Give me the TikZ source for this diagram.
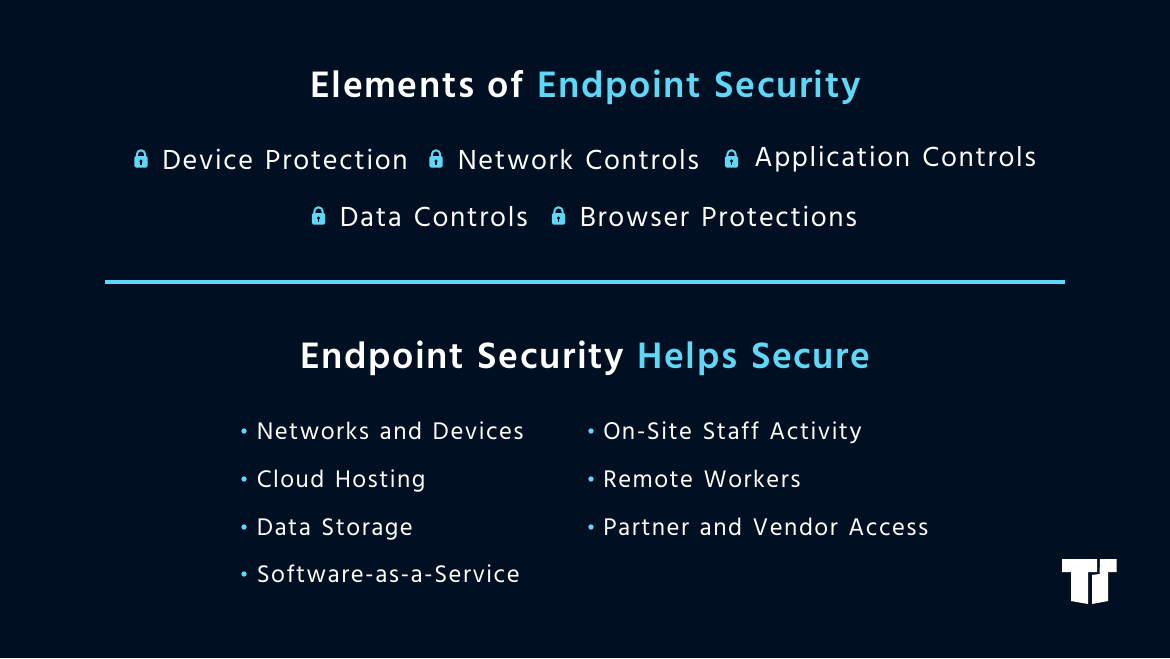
\documentclass[tikz,border=0pt]{standalone}
\usepackage{fontspec}
\setmainfont{Hind Siliguri}
\newfontfamily\itemfont[LetterSpace=6,WordSpace=1.5]{Hind Siliguri}
\newfontfamily\headfont[LetterSpace=4,WordSpace=1.3]{Hind Siliguri}
\usetikzlibrary{calc}
\definecolor{bgnavy}{HTML}{001022}
\definecolor{skyblue}{HTML}{5FD8F8}
\tikzset{
  headtext/.style={inner sep=0pt, anchor=base, text=white, font=\headfont\bfseries\fontsize{28.3pt}{32pt}\selectfont},
  itemtext/.style={inner sep=0pt, anchor=base west, text=white, font=\itemfont\fontsize{21.2pt}{24pt}\selectfont},
  listtext/.style={inner sep=0pt, anchor=base west, text=white, font=\itemfont\fontsize{18.5pt}{22pt}\selectfont},
  dot/.style={circle, fill=skyblue, inner sep=0pt, minimum size=4pt}
}
% padlock drawn at its centre
\newcommand{\padlock}[1]{
  \draw[skyblue, line width=1.5pt] ($(#1)+(-4.2,-1)$) -- ($(#1)+(-4.2,-4)$) arc (180:360:4.2) -- ($(#1)+(4.2,-1)$);
  \fill[skyblue, rounded corners=1.2pt] ($(#1)+(-6.7,-2.5)$) rectangle ($(#1)+(6.7,9)$);
  \fill[bgnavy] ($(#1)+(0,2.6)$) circle (1.7);
  \fill[bgnavy] ($(#1)+(-0.7,2.6)$) rectangle ($(#1)+(0.7,6)$);
}
\begin{document}
\begin{tikzpicture}[x=0.75pt, y=-0.75pt]
  \fill[bgnavy] (0,0) rectangle (1170,658);

  % top block
  \node[headtext] (head1) at (585.5,97) {Elements of \textcolor{skyblue}{Endpoint Security}};

  \padlock{141,158.5}
  \node[itemtext] (device) at (162,169) {Device Protection};
  \padlock{436,158.5}
  \node[itemtext] (network) at (457.5,169) {Network Controls};
  \padlock{731.5,158.5}
  \node[itemtext] (application) at (754,166) {Application Controls};
  \padlock{318.5,215.5}
  \node[itemtext] (data) at (339.5,226) {Data Controls};
  \padlock{558.5,215.5}
  \node[itemtext] (browser) at (579.5,226) {Browser Protections};

  \draw[skyblue, line width=3pt] (105,282) -- (1065,282);

  % lower block
  \node[headtext] (head2) at (585.5,368) {Endpoint Security \textcolor{skyblue}{Helps Secure}};

  \foreach \y/\name in {439/Networks and Devices, 487/Cloud Hosting, 535/Data Storage, 582/Software-as-a-Service}{
    \node[dot] at (244,\y-8) {};
    \node[listtext] at (256.5,\y) {\name};
  }
  \foreach \y/\name in {439/On-Site Staff Activity, 487/Remote Workers, 535/Partner and Vendor Access}{
    \node[dot] at (591,\y-8) {};
    \node[listtext] at (603,\y) {\name};
  }

  % logo
  \fill[white] (1062,559) -- (1097,559) -- (1097,572) -- (1088,572) -- (1088,604) -- (1071,601) -- (1071,572) -- (1062,572) -- cycle;
  \fill[white] (1100,559) -- (1116.5,559) -- (1116.5,572) -- (1108,572) -- (1108,601) -- (1092,604) -- (1092,575) -- (1099.5,574) -- cycle;
\end{tikzpicture}
\end{document}
